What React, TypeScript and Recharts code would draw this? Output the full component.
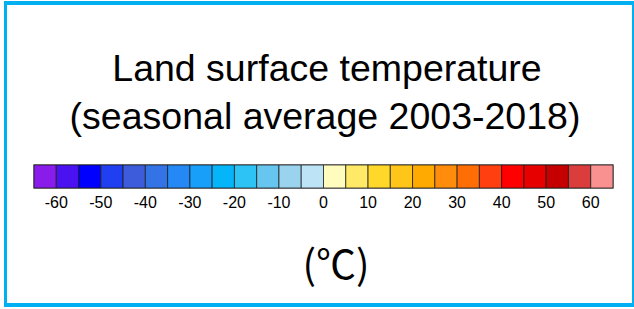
import { BarChart, Bar, XAxis, YAxis, ReferenceArea } from "recharts";

// colour bins of the legend (°C), 5-degree steps
const binEdges = [
  -65, -60, -55, -50, -45, -40, -35, -30, -25, -20, -15, -10, -5, 0,
  5, 10, 15, 20, 25, 30, 35, 40, 45, 50, 55, 60, 65,
];

const binColors = [
  "#8a1ceb", "#4a12f0", "#0000ff", "#1f3ff0", "#3c5cdb", "#3473e6", "#2488f5",
  "#189ffa", "#05b5fa", "#2ec3f5", "#66c6f0", "#99d3ee", "#bde3f6",
  "#fffcbe", "#ffe966", "#ffd82a", "#ffc519", "#ffaa00", "#ff8c0a", "#ff6e05",
  "#ff3f0f", "#ff0000", "#e60000", "#c40000", "#db3c3c", "#f99191",
];

const tickValues = [-60, -50, -40, -30, -20, -10, 0, 10, 20, 30, 40, 50, 60];

const titleLines = ["Land surface temperature", "(seasonal average 2003-2018)"];
const unitLabel = "(\u2103)";

const base = binEdges[0];
const span = binEdges[binEdges.length - 1] - base;

// one row, one stacked segment per bin
const row: Record<string, number | string> = { name: "lst" };
binColors.forEach((_, i) => {
  row[`b${i}`] = binEdges[i + 1] - binEdges[i];
});
const chartData = [row];

const App = () => {
  return (
    <div style={{ position: "absolute", left: 0, top: 0, width: 634, height: 309, background: "#fff" }}>
      <div
        style={{
          position: "absolute",
          left: 4,
          top: 1,
          width: 630,
          height: 306,
          boxSizing: "border-box",
          borderStyle: "solid",
          borderColor: "#00b0f0",
          borderWidth: "4px 2px 4px 3px",
        }}
      />
      <BarChart
        width={634}
        height={309}
        data={chartData}
        layout="vertical"
        margin={{ top: 165, right: 21, left: 34, bottom: 91 }}
        barCategoryGap={0}
      >
        <XAxis
          type="number"
          domain={[0, span]}
          ticks={tickValues.map((v) => v - base)}
          tickFormatter={(v: number) => String(v + base)}
          axisLine={false}
          tickLine={false}
          tickSize={0}
          tickMargin={9}
          height={30}
          interval={0}
          tick={{ fontSize: 16, fill: "#000", fontFamily: "'Liberation Sans', Arial, sans-serif" }}
        />
        <YAxis type="category" dataKey="name" hide />
        {binColors.map((c, i) => (
          <Bar
            key={i}
            dataKey={`b${i}`}
            stackId="bar"
            fill={c}
            stroke="#1a1a1a"
            strokeOpacity={0.75}
            strokeWidth={1}
            isAnimationActive={false}
          />
        ))}
        <ReferenceArea x1={0} x2={span} fill="none" fillOpacity={0} stroke="#6b6b6b" strokeWidth={1.5} />
      </BarChart>
      <svg
        width={634}
        height={309}
        style={{ position: "absolute", left: 0, top: 0, pointerEvents: "none" }}
      >
        <text x={327} y={81} textAnchor="middle" fontSize={37.5} fontFamily="'Liberation Sans', Arial, sans-serif" fill="#000">
          {titleLines[0]}
        </text>
        <text x={325} y={129} textAnchor="middle" fontSize={37.5} fontFamily="'Liberation Sans', Arial, sans-serif" fill="#000">
          {titleLines[1]}
        </text>
        <text x={336} y={279} textAnchor="middle" fontSize={40} fontFamily="'Noto Sans CJK JP', sans-serif" fill="#000">
          {unitLabel}
        </text>
      </svg>
    </div>
  );
};

export default App;
